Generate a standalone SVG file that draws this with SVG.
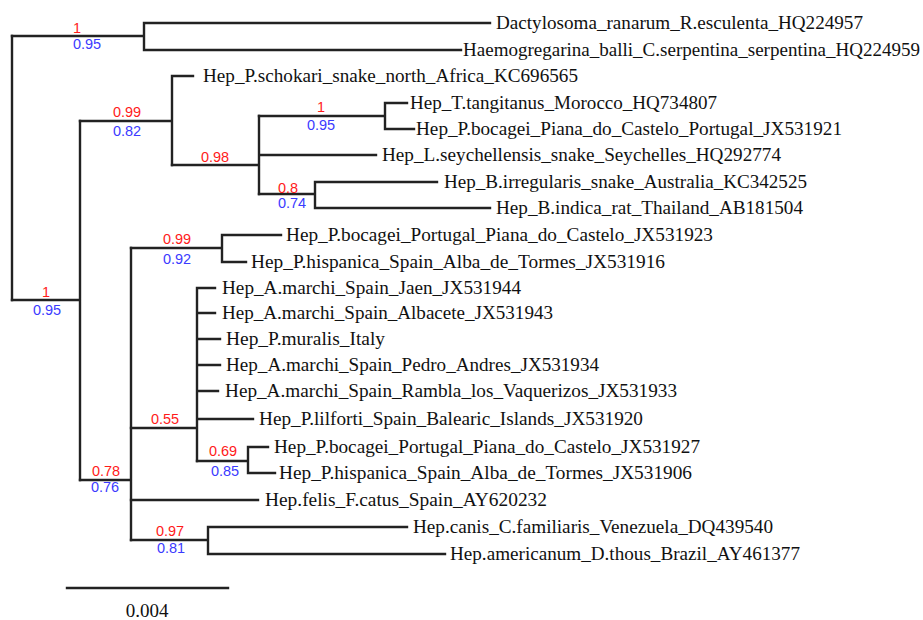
<svg xmlns="http://www.w3.org/2000/svg" width="923" height="620" viewBox="0 0 923 620">
<style>
.e{fill:none;stroke:#222;stroke-width:2.4;stroke-linecap:square}
.t{font-family:'Liberation Serif','Times New Roman',serif;font-size:19px;fill:#111}
.r{font-family:'Liberation Sans',Arial,sans-serif;font-size:14.5px;fill:#ff1a1a;text-anchor:middle}
.b{font-family:'Liberation Sans',Arial,sans-serif;font-size:14.5px;fill:#3b3bff;text-anchor:middle}
</style>
<rect width="923" height="620" fill="#fff"/>
<g id="connectors" class="e">
<path d="M12,36V300"/>
<path d="M12,36H144M144,23V50M144,23H490M144,50H461"/>
<path d="M12,300H80M80,121V480"/>
<path d="M80,121H172M172,76V165M172,76H193"/>
<path d="M172,165H259M259,116V194M259,155H376"/>
<path d="M259,116H385M385,103V129M385,103H407M385,129H414"/>
<path d="M259,194H315M315,182V208M315,182H437M315,208H490"/>
<path d="M80,480H131M131,248V540"/>
<path d="M131,248H222M222,235V262M222,235H281M222,262H246"/>
<path d="M131,428H197M197,288V461M197,288H215M197,313H215M197,339H220M197,365H220M197,391H218M197,419H253"/>
<path d="M197,461H248M248,447V473M248,447H268M248,473H275"/>
<path d="M131,500H258"/>
<path d="M131,540H208M208,527V554M208,527H407M208,554H445"/>
<path d="M67,588H228"/>
</g>
<g id="tip1"><text class="t" x="496" y="29" textLength="367" lengthAdjust="spacingAndGlyphs">Dactylosoma_ranarum_R.esculenta_HQ224957</text></g>
<g id="tip2"><text class="t" x="463" y="56" textLength="457" lengthAdjust="spacingAndGlyphs">Haemogregarina_balli_C.serpentina_serpentina_HQ224959</text></g>
<g id="tip3"><text class="t" x="203" y="82" textLength="375" lengthAdjust="spacingAndGlyphs">Hep_P.schokari_snake_north_Africa_KC696565</text></g>
<g id="tip4"><text class="t" x="410" y="109" textLength="307" lengthAdjust="spacingAndGlyphs">Hep_T.tangitanus_Morocco_HQ734807</text></g>
<g id="tip5"><text class="t" x="416" y="135" textLength="426" lengthAdjust="spacingAndGlyphs">Hep_P.bocagei_Piana_do_Castelo_Portugal_JX531921</text></g>
<g id="tip6"><text class="t" x="382" y="161" textLength="399" lengthAdjust="spacingAndGlyphs">Hep_L.seychellensis_snake_Seychelles_HQ292774</text></g>
<g id="tip7"><text class="t" x="444" y="188" textLength="363" lengthAdjust="spacingAndGlyphs">Hep_B.irregularis_snake_Australia_KC342525</text></g>
<g id="tip8"><text class="t" x="496" y="214" textLength="307" lengthAdjust="spacingAndGlyphs">Hep_B.indica_rat_Thailand_AB181504</text></g>
<g id="tip9"><text class="t" x="286" y="241" textLength="427" lengthAdjust="spacingAndGlyphs">Hep_P.bocagei_Portugal_Piana_do_Castelo_JX531923</text></g>
<g id="tip10"><text class="t" x="251" y="268" textLength="414" lengthAdjust="spacingAndGlyphs">Hep_P.hispanica_Spain_Alba_de_Tormes_JX531916</text></g>
<g id="tip11"><text class="t" x="222" y="294" textLength="299" lengthAdjust="spacingAndGlyphs">Hep_A.marchi_Spain_Jaen_JX531944</text></g>
<g id="tip12"><text class="t" x="222" y="319" textLength="331" lengthAdjust="spacingAndGlyphs">Hep_A.marchi_Spain_Albacete_JX531943</text></g>
<g id="tip13"><text class="t" x="226" y="345" textLength="159" lengthAdjust="spacingAndGlyphs">Hep_P.muralis_Italy</text></g>
<g id="tip14"><text class="t" x="226" y="371" textLength="373" lengthAdjust="spacingAndGlyphs">Hep_A.marchi_Spain_Pedro_Andres_JX531934</text></g>
<g id="tip15"><text class="t" x="225" y="397" textLength="452" lengthAdjust="spacingAndGlyphs">Hep_A.marchi_Spain_Rambla_los_Vaquerizos_JX531933</text></g>
<g id="tip16"><text class="t" x="259" y="425" textLength="384" lengthAdjust="spacingAndGlyphs">Hep_P.lilforti_Spain_Balearic_Islands_JX531920</text></g>
<g id="tip17"><text class="t" x="274" y="453" textLength="426" lengthAdjust="spacingAndGlyphs">Hep_P.bocagei_Portugal_Piana_do_Castelo_JX531927</text></g>
<g id="tip18"><text class="t" x="279" y="479" textLength="413" lengthAdjust="spacingAndGlyphs">Hep_P.hispanica_Spain_Alba_de_Tormes_JX531906</text></g>
<g id="tip19"><text class="t" x="265" y="506" textLength="282" lengthAdjust="spacingAndGlyphs">Hep.felis_F.catus_Spain_AY620232</text></g>
<g id="tip20"><text class="t" x="413" y="533" textLength="360" lengthAdjust="spacingAndGlyphs">Hep.canis_C.familiaris_Venezuela_DQ439540</text></g>
<g id="tip21"><text class="t" x="450" y="560" textLength="350" lengthAdjust="spacingAndGlyphs">Hep.americanum_D.thous_Brazil_AY461377</text></g>
<g id="n-root-top"><text class="r" x="77" y="33">1</text><text class="b" x="87" y="49">0.95</text></g>
<g id="n-root-bottom"><text class="r" x="46" y="297">1</text><text class="b" x="47" y="315">0.95</text></g>
<g id="n-hep1"><text class="r" x="127" y="117">0.99</text><text class="b" x="127" y="136">0.82</text></g>
<g id="n-hep2"><text class="r" x="215" y="162">0.98</text></g>
<g id="n-hep3"><text class="r" x="321" y="112">1</text><text class="b" x="321" y="130">0.95</text></g>
<g id="n-hep4"><text class="r" x="288" y="193">0.8</text><text class="b" x="292" y="208">0.74</text></g>
<g id="n-lower"><text class="r" x="106" y="476">0.78</text><text class="b" x="105" y="492">0.76</text></g>
<g id="n-bocagei"><text class="r" x="177" y="244">0.99</text><text class="b" x="177" y="264">0.92</text></g>
<g id="n-poly"><text class="r" x="165" y="424">0.55</text></g>
<g id="n-pair"><text class="r" x="223" y="456">0.69</text><text class="b" x="225" y="476">0.85</text></g>
<g id="n-canis"><text class="r" x="170" y="536">0.97</text><text class="b" x="171" y="553">0.81</text></g>
<g id="scale"><text class="t" x="147" y="617" text-anchor="middle">0.004</text></g>
</svg>
